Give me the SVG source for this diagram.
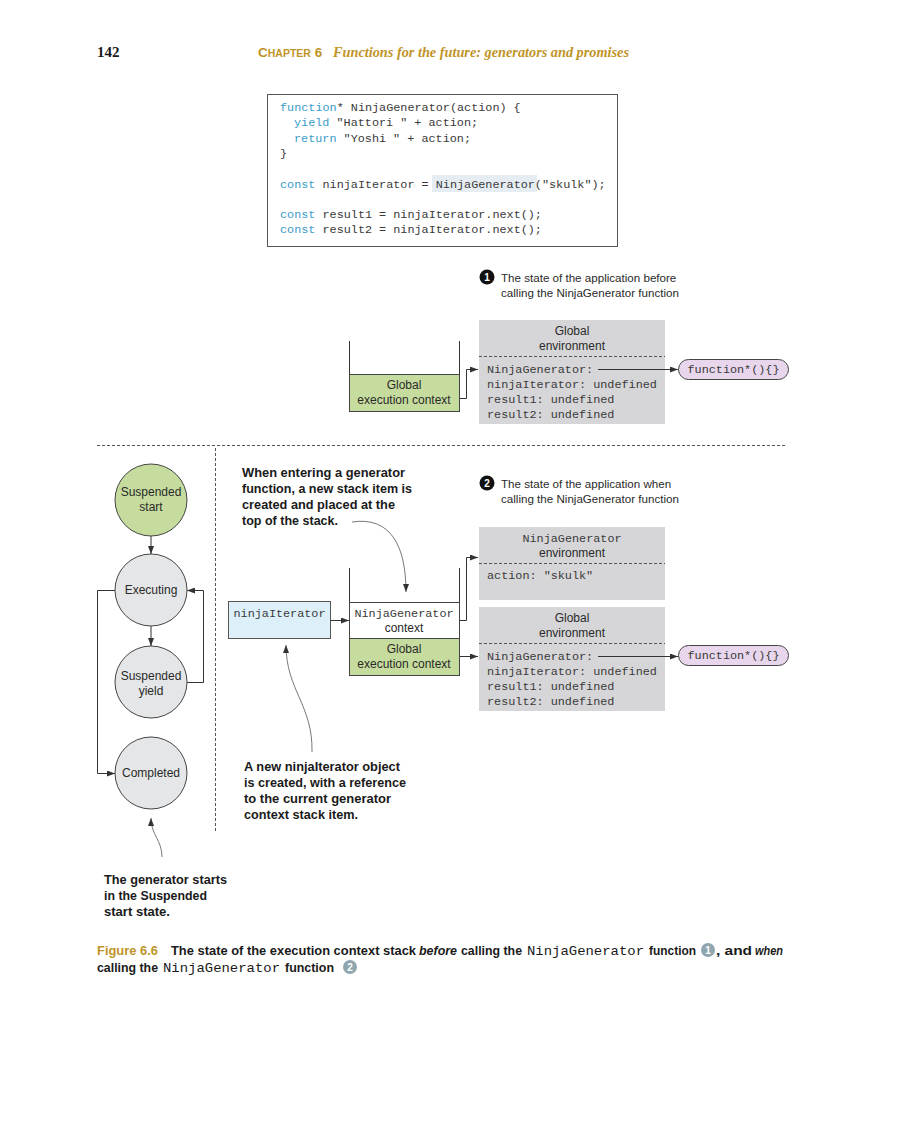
<svg xmlns="http://www.w3.org/2000/svg" width="900" height="1129" viewBox="0 0 900 1129">
<style>
.mono{font-family:"Liberation Mono","DejaVu Sans Mono",monospace;font-size:11.8px;fill:#3a3a3a}
.kw{fill:#3a9cc8}
.sans{font-family:"Liberation Sans",Arial,sans-serif;font-size:12px;fill:#2a2a2a}
.ann{font-family:"Liberation Sans",Arial,sans-serif;font-size:13.5px;font-weight:bold;fill:#1a1a1a}
.cap{font-family:"Liberation Sans",Arial,sans-serif;font-size:13px;font-weight:bold;fill:#1a1a1a}
.capm{font-family:"Liberation Mono","DejaVu Sans Mono",monospace;font-size:13px;font-weight:normal;fill:#1a1a1a}
.env{fill:#d6d6d8}
.dash{stroke:#555;stroke-width:1;stroke-dasharray:3,2;fill:none}
.line{stroke:#333;stroke-width:1;fill:none}
.thin{stroke:#555;stroke-width:0.8;fill:none}
.circ{fill:#e4e6e8;stroke:#444;stroke-width:1}
.green{fill:#c6dc9e;stroke:#444;stroke-width:1}
.pill{fill:#e8d6ec;stroke:#444;stroke-width:1}
</style>
<defs>
<marker id="ah" markerWidth="8" markerHeight="6" refX="8" refY="3" orient="auto" markerUnits="userSpaceOnUse">
<path d="M0,0 L8,3 L0,6 z" fill="#333"/>
</marker>
</defs>
<rect width="900" height="1129" fill="#fff"/>

<g id="header">
<text x="97" y="57" font-family="Liberation Serif,serif" font-weight="bold" font-size="15" fill="#1a1a1a">142</text>
<text x="258" y="57" font-family="Liberation Sans,sans-serif" font-weight="bold" fill="#bf9428"><tspan font-size="13.5">C</tspan><tspan font-size="10.5">HAPTER</tspan><tspan font-size="13.5"> 6</tspan></text>
<text x="333" y="57" font-family="Liberation Serif,serif" font-style="italic" font-weight="bold" font-size="15" fill="#bf9428" textLength="296" lengthAdjust="spacingAndGlyphs">Functions for the future: generators and promises</text>
</g>

<g id="code">
<rect x="267.5" y="94.5" width="350" height="152" fill="#fff" stroke="#555" stroke-width="1"/>
<rect x="432" y="175" width="105" height="17" fill="#e6edf2"/>
<text class="mono" x="280" y="111"><tspan class="kw">function</tspan>* NinjaGenerator(action) {</text>
<text class="mono" x="294" y="126"><tspan class="kw">yield</tspan> "Hattori " + action;</text>
<text class="mono" x="294" y="142"><tspan class="kw">return</tspan> "Yoshi " + action;</text>
<text class="mono" x="280" y="157">}</text>
<text class="mono" x="280" y="188"><tspan class="kw">const</tspan> ninjaIterator = NinjaGenerator("skulk");</text>
<text class="mono" x="280" y="218"><tspan class="kw">const</tspan> result1 = ninjaIterator.next();</text>
<text class="mono" x="280" y="233"><tspan class="kw">const</tspan> result2 = ninjaIterator.next();</text>
</g>

<g id="label1">
<circle cx="487" cy="277" r="7.5" fill="#111"/>
<text x="487" y="281" text-anchor="middle" font-family="Liberation Sans,sans-serif" font-weight="bold" font-size="10" fill="#fff">1</text>
<text class="sans" x="501" y="282" style="font-size:11.6px">The state of the application before</text>
<text class="sans" x="501" y="297" style="font-size:11.6px">calling the NinjaGenerator function</text>
</g>

<g id="stack1">
<line class="line" x1="349.5" y1="341" x2="349.5" y2="375"/>
<line class="line" x1="459.5" y1="341" x2="459.5" y2="375"/>
<rect class="green" x="349.5" y="374.5" width="110" height="37"/>
<text class="sans" x="404" y="389" text-anchor="middle">Global</text>
<text class="sans" x="404" y="404" text-anchor="middle">execution context</text>
</g>

<g id="globalEnv1">
<rect class="env" x="479" y="320" width="186" height="104"/>
<text class="sans" x="572" y="335" text-anchor="middle">Global</text>
<text class="sans" x="572" y="350" text-anchor="middle">environment</text>
<line class="dash" x1="479" y1="356.5" x2="665" y2="356.5"/>
<text class="mono" x="487" y="373">NinjaGenerator:</text>
<text class="mono" x="487" y="388">ninjaIterator: undefined</text>
<text class="mono" x="487" y="403">result1: undefined</text>
<text class="mono" x="487" y="418">result2: undefined</text>
</g>

<g id="fn1">
<rect class="pill" x="678.5" y="359.5" width="110" height="20" rx="10"/>
<text class="mono" x="733.5" y="373" text-anchor="middle">function*(){}</text>
</g>

<g id="separators">
<line class="dash" x1="97" y1="445.5" x2="786" y2="445.5"/>
<line class="dash" x1="215.5" y1="448" x2="215.5" y2="833"/>
</g>

<g id="suspendedStart">
<circle cx="151" cy="500" r="36" fill="#c6dc9e" stroke="#444" stroke-width="1"/>
<text class="sans" x="151" y="496" text-anchor="middle">Suspended</text>
<text class="sans" x="151" y="511" text-anchor="middle">start</text>
</g>
<g id="executing">
<circle class="circ" cx="151" cy="590" r="36"/>
<text class="sans" x="151" y="594" text-anchor="middle">Executing</text>
</g>
<g id="suspendedYield">
<circle class="circ" cx="151" cy="682" r="36"/>
<text class="sans" x="151" y="680" text-anchor="middle">Suspended</text>
<text class="sans" x="151" y="695" text-anchor="middle">yield</text>
</g>
<g id="completed">
<circle class="circ" cx="151" cy="773" r="36"/>
<text class="sans" x="151" y="777" text-anchor="middle">Completed</text>
</g>

<g id="note3">
<text class="ann" x="104" y="884" textLength="123" lengthAdjust="spacingAndGlyphs">The generator starts</text>
<text class="ann" x="104" y="900" textLength="103" lengthAdjust="spacingAndGlyphs">in the Suspended</text>
<text class="ann" x="104" y="916" textLength="66" lengthAdjust="spacingAndGlyphs">start state.</text>
</g>

<g id="note1">
<text class="ann" x="242" y="477" textLength="163" lengthAdjust="spacingAndGlyphs">When entering a generator</text>
<text class="ann" x="242" y="493" textLength="170" lengthAdjust="spacingAndGlyphs">function, a new stack item is</text>
<text class="ann" x="242" y="509" textLength="153" lengthAdjust="spacingAndGlyphs">created and placed at the</text>
<text class="ann" x="242" y="525" textLength="96" lengthAdjust="spacingAndGlyphs">top of the stack.</text>
</g>

<g id="label2">
<circle cx="487" cy="483" r="7.5" fill="#111"/>
<text x="487" y="487" text-anchor="middle" font-family="Liberation Sans,sans-serif" font-weight="bold" font-size="10" fill="#fff">2</text>
<text class="sans" x="501" y="488" style="font-size:11.6px">The state of the application when</text>
<text class="sans" x="501" y="503" style="font-size:11.6px">calling the NinjaGenerator function</text>
</g>

<g id="ngEnv">
<rect class="env" x="479" y="527" width="186" height="73"/>
<text class="mono" x="572" y="542" text-anchor="middle">NinjaGenerator</text>
<text class="sans" x="572" y="557" text-anchor="middle">environment</text>
<line class="dash" x1="479" y1="563.5" x2="665" y2="563.5"/>
<text class="mono" x="487" y="579">action: "skulk"</text>
</g>

<g id="globalEnv2">
<rect class="env" x="479" y="607" width="186" height="104"/>
<text class="sans" x="572" y="622" text-anchor="middle">Global</text>
<text class="sans" x="572" y="637" text-anchor="middle">environment</text>
<line class="dash" x1="479" y1="643.5" x2="665" y2="643.5"/>
<text class="mono" x="487" y="660">NinjaGenerator:</text>
<text class="mono" x="487" y="675">ninjaIterator: undefined</text>
<text class="mono" x="487" y="690">result1: undefined</text>
<text class="mono" x="487" y="705">result2: undefined</text>
</g>

<g id="fn2">
<rect class="pill" x="678.5" y="645.5" width="110" height="20" rx="10"/>
<text class="mono" x="733.5" y="659" text-anchor="middle">function*(){}</text>
</g>

<g id="stack2">
<line class="line" x1="349.5" y1="568" x2="349.5" y2="602"/>
<line class="line" x1="459.5" y1="568" x2="459.5" y2="602"/>
<rect x="349.5" y="602.5" width="110" height="36" fill="#fff" stroke="#444" stroke-width="1"/>
<text class="mono" x="404" y="617" text-anchor="middle">NinjaGenerator</text>
<text class="sans" x="404" y="632" text-anchor="middle">context</text>
<rect class="green" x="349.5" y="638.5" width="110" height="37"/>
<text class="sans" x="404" y="653" text-anchor="middle">Global</text>
<text class="sans" x="404" y="668" text-anchor="middle">execution context</text>
</g>

<g id="ninjaIterator">
<rect x="228.5" y="601.5" width="102" height="37" fill="#ddf0fa" stroke="#555" stroke-width="1"/>
<text class="mono" x="279.5" y="617" text-anchor="middle">ninjaIterator</text>
</g>

<g id="note2">
<text class="ann" x="244" y="771" textLength="156" lengthAdjust="spacingAndGlyphs">A new ninjaIterator object</text>
<text class="ann" x="244" y="787" textLength="162" lengthAdjust="spacingAndGlyphs">is created, with a reference</text>
<text class="ann" x="244" y="803" textLength="147" lengthAdjust="spacingAndGlyphs">to the current generator</text>
<text class="ann" x="244" y="819" textLength="114" lengthAdjust="spacingAndGlyphs">context stack item.</text>
</g>

<g id="connectors">
<path class="line" d="M459.5,398.5 H466.5 V369.5 H478" marker-end="url(#ah)"/>
<line class="line" x1="598" y1="369.5" x2="678" y2="369.5" marker-end="url(#ah)"/>
<line class="line" x1="151" y1="536" x2="151" y2="554" marker-end="url(#ah)"/>
<line class="line" x1="151" y1="626" x2="151" y2="646" marker-end="url(#ah)"/>
<path class="line" d="M187,682.5 H203.5 V590.5 H187" marker-end="url(#ah)"/>
<path class="line" d="M115,590.5 H97.5 V773.5 H115" marker-end="url(#ah)"/>
<path class="line" d="M459.5,620.5 H466.5 V557.5 H478" marker-end="url(#ah)"/>
<line class="line" x1="459.5" y1="656.5" x2="478" y2="656.5" marker-end="url(#ah)"/>
<line class="line" x1="598" y1="656.5" x2="678" y2="656.5" marker-end="url(#ah)"/>
<line class="line" x1="330.5" y1="620.5" x2="349" y2="620.5" marker-end="url(#ah)"/>
<path class="thin" d="M352,522 C392,516 406,548 406,592" marker-end="url(#ah)"/>
<path class="thin" d="M312,752 C313,705 286,690 286,645" marker-end="url(#ah)"/>
<path class="thin" d="M162,857 C162,840 151,835 151,818" marker-end="url(#ah)"/>
</g>

<g id="caption">
<text class="cap" x="97" y="955" style="fill:#bf9428" textLength="61" lengthAdjust="spacingAndGlyphs">Figure 6.6</text>
<text class="cap" x="171" y="955" textLength="245" lengthAdjust="spacingAndGlyphs">The state of the execution context stack</text>
<text class="cap" x="419" y="955" style="font-style:italic" textLength="38" lengthAdjust="spacingAndGlyphs">before</text>
<text class="cap" x="461" y="955" textLength="61" lengthAdjust="spacingAndGlyphs">calling the</text>
<text class="capm" x="527" y="955" textLength="117" lengthAdjust="spacingAndGlyphs">NinjaGenerator</text>
<text class="cap" x="649" y="955" textLength="47" lengthAdjust="spacingAndGlyphs">function</text>
<circle cx="708" cy="950" r="7" fill="#8fa6ae"/>
<text x="708" y="954" text-anchor="middle" font-family="Liberation Sans,sans-serif" font-weight="bold" font-size="10" fill="#fff">1</text>
<text class="cap" x="716" y="955" textLength="36" lengthAdjust="spacingAndGlyphs">, and</text>
<text class="cap" x="755" y="955" style="font-style:italic" textLength="28" lengthAdjust="spacingAndGlyphs">when</text>
<text class="cap" x="97" y="972" textLength="61" lengthAdjust="spacingAndGlyphs">calling the</text>
<text class="capm" x="163" y="972" textLength="117" lengthAdjust="spacingAndGlyphs">NinjaGenerator</text>
<text class="cap" x="285" y="972" textLength="49" lengthAdjust="spacingAndGlyphs">function</text>
<circle cx="350" cy="967" r="7" fill="#8fa6ae"/>
<text x="350" y="971" text-anchor="middle" font-family="Liberation Sans,sans-serif" font-weight="bold" font-size="10" fill="#fff">2</text>
</g>
</svg>
